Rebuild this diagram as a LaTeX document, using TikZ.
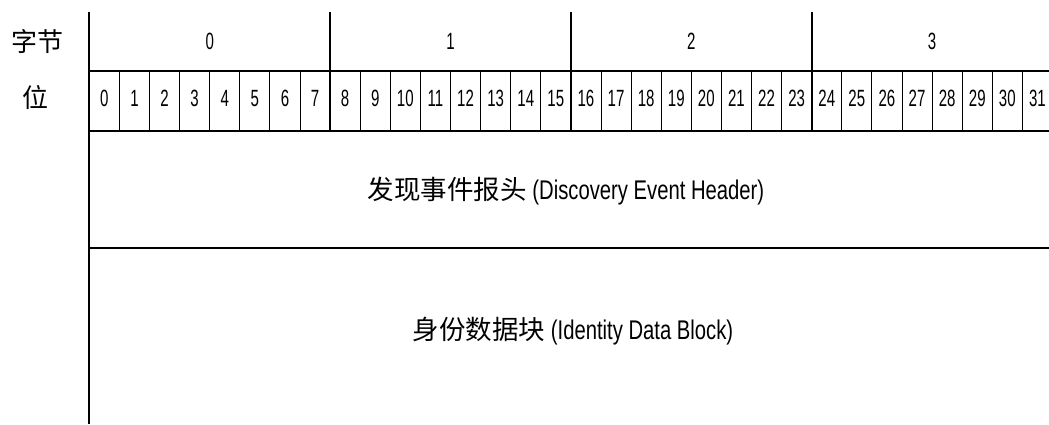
\documentclass[tikz,border=0pt]{standalone}
\usepackage{fontspec}
\setmainfont{Liberation Sans}[FakeStretch=0.75]
\newfontfamily\numfont{Liberation Sans}[FakeStretch=0.64]
\newfontfamily\cjk{Noto Sans CJK SC}
\begin{document}
\begin{tikzpicture}[x=1pt,y=-1pt,
  thickln/.style={line width=2.2pt},
  thinln/.style={line width=1pt},
  lbl/.style={inner sep=0pt,font=\fontsize{23.5}{26}\selectfont\numfont},
  cjklbl/.style={inner sep=0pt,font=\fontsize{26}{30}\selectfont\cjk},
  bodytxt/.style={inner sep=0pt,font=\fontsize{27}{30}\selectfont}]
\useasboundingbox (0,0) rectangle (1049,424);
\def\xo{89.3}\def\cw{30.1}
% thin bit dividers
\foreach \i in {1,...,31}{
  \draw[thinln] ({\xo+\i*\cw},70.7) -- ({\xo+\i*\cw},130.7);
}
% horizontals
\draw[thickln] (\xo,70.7) -- (1049,70.7);
\draw[thickln] (\xo,130.7) -- (1049,130.7);
\draw[thickln] (\xo,247.7) -- (1049,247.7);
% byte dividers
\foreach \k in {1,2,3}{
  \draw[thickln] ({\xo+8*\k*\cw},11.7) -- ({\xo+8*\k*\cw},130.7);
}
\draw[thickln] (\xo,11.7) -- (\xo,424);
% labels
\node[cjklbl] (byte) at (37,42) {字节};
\node[cjklbl] (bit) at (36,97) {位};
\foreach \k in {0,...,3}{
  \node[lbl] (b\k) at ({\xo+(8*\k+4)*\cw},41.5) {\k};
}
\foreach \i in {0,...,31}{
  \node[lbl] (t\i) at ({\xo+(\i+0.5)*\cw},98.5) {\i};
}
\node[bodytxt] (hdr) at (566,191) {{\cjk\fontsize{26.5}{30}\selectfont 发现事件报头} (Discovery Event Header)};
\node[bodytxt] (idb) at (573,331) {{\cjk\fontsize{26.5}{30}\selectfont 身份数据块} (Identity Data Block)};
\end{tikzpicture}
\end{document}
